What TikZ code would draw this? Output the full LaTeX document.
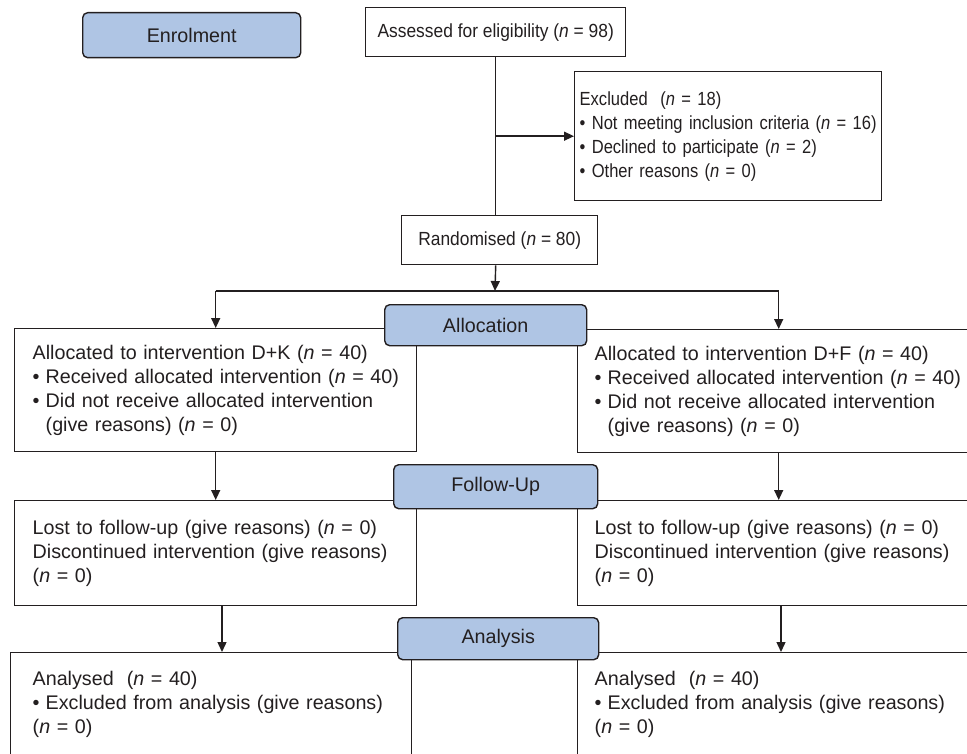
\documentclass[tikz,border=0pt]{standalone}
\usepackage{fontspec}
\setmainfont{Liberation Sans}
\newfontfamily\narrowfont[FakeStretch=0.915]{Liberation Sans}
\newfontfamily\tightfont[FakeStretch=0.87]{Liberation Sans}
\usepackage{xcolor}
\usetikzlibrary{arrows.meta,positioning}
\definecolor{inkgray}{HTML}{231F20}
\definecolor{hdrblue}{RGB}{175,197,228}
\newcommand{\bul}{\makebox[13pt][l]{\textbullet}}
\newcommand{\nn}{\textit{n}}

\begin{document}
\begin{tikzpicture}[x=1pt,y=-1pt,every node/.style={font=\fontsize{19.7}{24}\selectfont,text=inkgray,anchor=north west,inner ysep=0pt},box/.style={draw=inkgray,line width=1.4pt,fill=white,align=left},narrow/.style={font=\fontsize{19}{24}\selectfont\narrowfont},tight/.style={font=\fontsize{19}{24}\selectfont\tightfont},hdr/.style={draw=inkgray,line width=1.4pt,fill=hdrblue,rounded corners=5pt,align=center},arrow/.style={-{Triangle[length=10pt,width=9pt]},line width=1.4pt,inkgray}]
\useasboundingbox (0,0) rectangle (967,754);
\clip (0,0) rectangle (967,754);
% enrolment
\node[box,narrow,align=center,minimum width=260pt,minimum height=49pt] (assess) at (365,7) {Assessed for eligibility (\nn{} = 98)};
\node[box,tight,inner xsep=5pt,text width=297pt,minimum height=129pt] (excl) at (574,71) {Excluded\ \ (\nn{} = 18)\\\mbox{\textbullet\ Not meeting inclusion criteria (\nn{} = 16)}\\\textbullet\ Declined to participate (\nn{} = 2)\\\textbullet\ Other reasons (\nn{} = 0)};
\node[box,narrow,align=center,minimum width=196pt,minimum height=49pt] (rand) at (401,215) {Randomised (\nn{} = 80)};
% allocation
\node[box,inner xsep=18pt,text width=366pt,minimum height=123pt] (dk) at (14,328) {Allocated to intervention D+K (\nn{} = 40)\\\mbox{\bul Received allocated intervention (\nn{} = 40)}\\\bul Did not receive allocated intervention\\\hspace*{13pt}(give reasons) (\nn{} = 0)};
\node[box,inner xsep=17pt,text width=368pt,minimum height=123pt] (df) at (577,329) {Allocated to intervention D+F (\nn{} = 40)\\\mbox{\bul Received allocated intervention (\nn{} = 40)}\\\bul Did not receive allocated intervention\\\hspace*{13pt}(give reasons) (\nn{} = 0)};
% follow-up
\node[box,inner xsep=18pt,text width=366pt,minimum height=105pt] (fuk) at (14,500) {Lost to follow-up (give reasons) (\nn{} = 0)\\\mbox{Discontinued intervention (give reasons)}\\(\nn{} = 0)};
\node[box,inner xsep=17pt,text width=368pt,minimum height=105pt] (fuf) at (577,500) {Lost to follow-up (give reasons) (\nn{} = 0)\\\mbox{Discontinued intervention (give reasons)}\\(\nn{} = 0)};
% analysis
\node[box,inner xsep=22pt,text width=357pt,minimum height=104pt] (ank) at (10,652) {Analysed\ \ (\nn{} = 40)\\\mbox{\bul Excluded from analysis (give reasons)}\\(\nn{} = 0)};
\node[box,inner xsep=17pt,text width=368pt,minimum height=104pt] (anf) at (577,652) {Analysed\ \ (\nn{} = 40)\\\mbox{\bul Excluded from analysis (give reasons)}\\(\nn{} = 0)};
% connectors
\coordinate (split) at (495,291);
\draw[line width=1.4pt,inkgray] (assess.south) -- (assess.south |- rand.north);
\draw[arrow] (assess.south |- excl.west) -- (excl.west);
\draw[arrow] (assess.south |- rand.south) -- (split);
\draw[line width=1.4pt,inkgray] (dk.north |- split) -- (df.north |- split);
\draw[arrow] (dk.north |- split) -- (dk.north);
\draw[arrow] (df.north |- split) -- (df.north);
\draw[arrow] (dk.south) -- (fuk.north);
\draw[arrow] (df.south) -- (fuf.north);
\draw[arrow] (fuk.south -| 222,0) -- (ank.north -| 222,0);
\draw[arrow] (fuf.south -| 781,0) -- (anf.north -| 781,0);
% stage headers
\node[hdr,minimum width=218pt,minimum height=45pt] (enrol) at (82,12) {Enrolment};
\node[hdr,minimum width=202pt,minimum height=41pt] (alloc) at (384,304) {Allocation};
\node[hdr,minimum width=204pt,minimum height=44pt] (fu) at (393,464) {Follow-Up};
\node[hdr,minimum width=201pt,minimum height=42pt] (anl) at (397,617) {Analysis};
\end{tikzpicture}
\end{document}
